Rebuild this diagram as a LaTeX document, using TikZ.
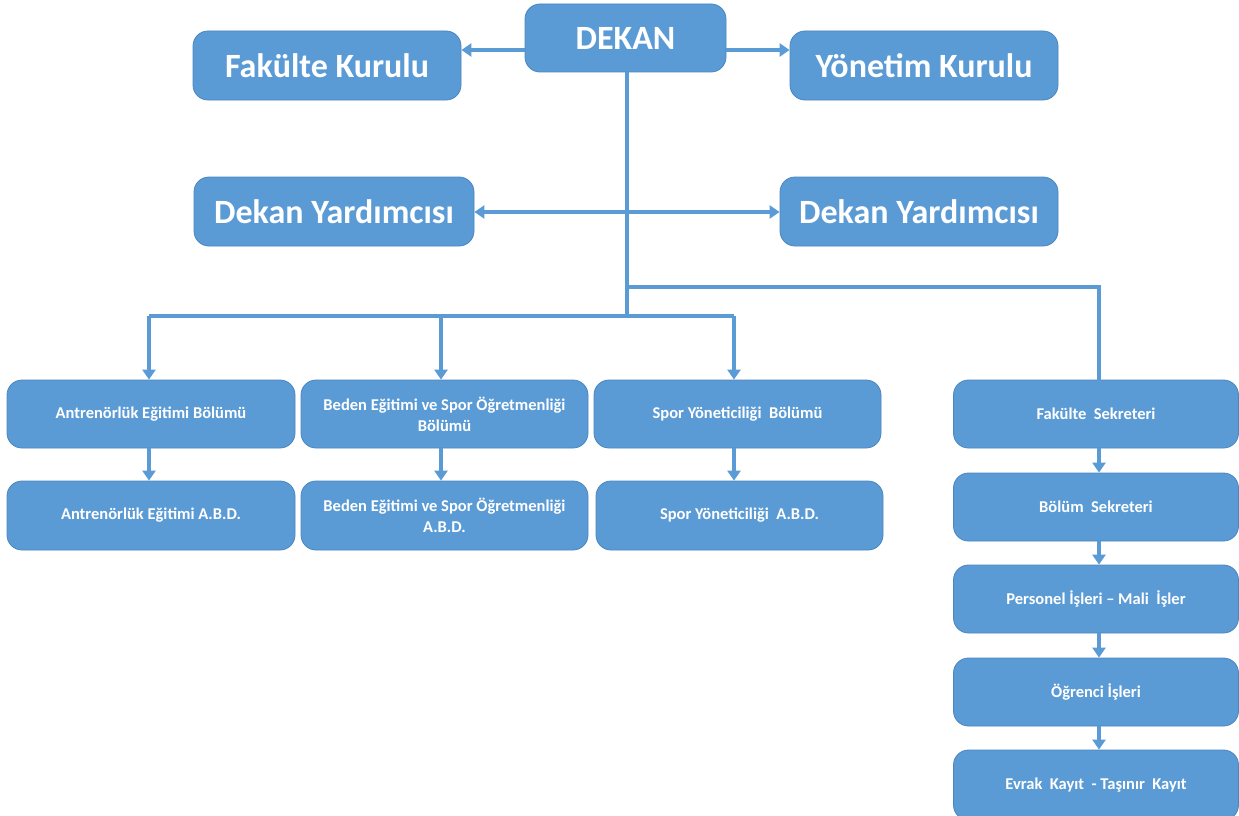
\documentclass[tikz,border=0pt]{standalone}
\usepackage{fontspec}
\setmainfont{Carlito}
\usetikzlibrary{arrows.meta}
\definecolor{boxblue}{HTML}{5B9BD5}
\definecolor{boxedge}{HTML}{4A86BF}
\begin{document}
\begin{tikzpicture}[x=1pt,y=-1pt,
  box/.style={draw=boxedge, line width=0.8pt, fill=boxblue, rounded corners=15pt,
     text=white, font=\bfseries, align=center, inner sep=0pt},
  bigbox/.style={box, font=\fontsize{34}{40}\selectfont\bfseries},
  smallbox/.style={box, font=\fontsize{16.5}{21}\selectfont\bfseries},
  line/.style={draw=boxblue, line width=3.5pt},
  arr/.style={line, -{Triangle[width=13pt,length=10pt]}}]
\useasboundingbox (0,0) rectangle (1239,816);
\fill[white] (0,0) rectangle (1239,816);
% top level
\node[bigbox, minimum width=201, minimum height=68] (dekan) at (625.5,38) {DEKAN};
\node[bigbox, minimum width=268, minimum height=69] (fk) at (327,65.5) {Fakülte Kurulu};
\node[bigbox, minimum width=268, minimum height=69] (yk) at (924,65.5) {Yönetim Kurulu};
\node[bigbox, minimum width=280, minimum height=69] (dyl) at (334,211.5) {Dekan Yardımcısı};
\node[bigbox, minimum width=278, minimum height=69] (dyr) at (919,211.5) {Dekan Yardımcısı};
% departments
\node[smallbox, minimum width=288, minimum height=68] (ab) at (151,414) {Antrenörlük Eğitimi Bölümü};
\node[smallbox, minimum width=287, minimum height=68] (bb) at (444.5,414) {Beden Eğitimi ve Spor Öğretmenliği\\Bölümü};
\node[smallbox, minimum width=287, minimum height=68] (sb) at (737.5,414) {Spor Yöneticiliği \ Bölümü};
\node[smallbox, minimum width=288, minimum height=69] (aa) at (151,515.5) {Antrenörlük Eğitimi A.B.D.};
\node[smallbox, minimum width=287, minimum height=69] (ba) at (444.5,515.5) {Beden Eğitimi ve Spor Öğretmenliği\\A.B.D.};
\node[smallbox, minimum width=287, minimum height=69] (sa) at (739.5,515.5) {Spor Yöneticiliği \ A.B.D.};
% secretariat column
\node[smallbox, minimum width=285, minimum height=68] (fs) at (1096,414) {Fakülte \ Sekreteri};
\node[smallbox, minimum width=285, minimum height=68] (bs) at (1096,507) {Bölüm \ Sekreteri};
\node[smallbox, minimum width=285, minimum height=68] (pi) at (1096,599) {Personel İşleri – Mali \ İşler};
\node[smallbox, minimum width=285, minimum height=68] (oi) at (1096,692) {Öğrenci İşleri};
\node[smallbox, minimum width=285, minimum height=70] (ek) at (1096,785) {Evrak \ Kayıt \ - Taşınır \ Kayıt};
% coordinates
\coordinate (ttop) at (627,72);
\coordinate (tdy) at (627,212);
\coordinate (tsec) at (627,287);
\coordinate (tdep) at (627,316);
% connectors
\draw[arr] (dekan.west |- 0,50) -- (fk.east |- 0,50);
\draw[arr] (dekan.east |- 0,50) -- (yk.west |- 0,50);
\draw[line] (ttop) -- (tdep);
\draw[arr] (tdy) -- (dyl.east |- tdy);
\draw[arr] (tdy) -- (dyr.west |- tdy);
\draw[arr] (tsec) -| (1099,380) -- (fs.north -| 1099,0);
\draw[line] (149,316) -- (734,316);
\draw[arr] (149,316) -- (ab.north -| 149,0);
\draw[arr] (441,316) -- (bb.north -| 441,0);
\draw[arr] (734,316) -- (sb.north -| 734,0);
\draw[arr] (ab.south -| 149,0) -- (aa.north -| 149,0);
\draw[arr] (bb.south -| 441,0) -- (ba.north -| 441,0);
\draw[arr] (sb.south -| 734,0) -- (sa.north -| 734,0);
\draw[arr] (fs.south -| 1099,0) -- (bs.north -| 1099,0);
\draw[arr] (bs.south -| 1099,0) -- (pi.north -| 1099,0);
\draw[arr] (pi.south -| 1099,0) -- (oi.north -| 1099,0);
\draw[arr] (oi.south -| 1099,0) -- (ek.north -| 1099,0);
\end{tikzpicture}
\end{document}
